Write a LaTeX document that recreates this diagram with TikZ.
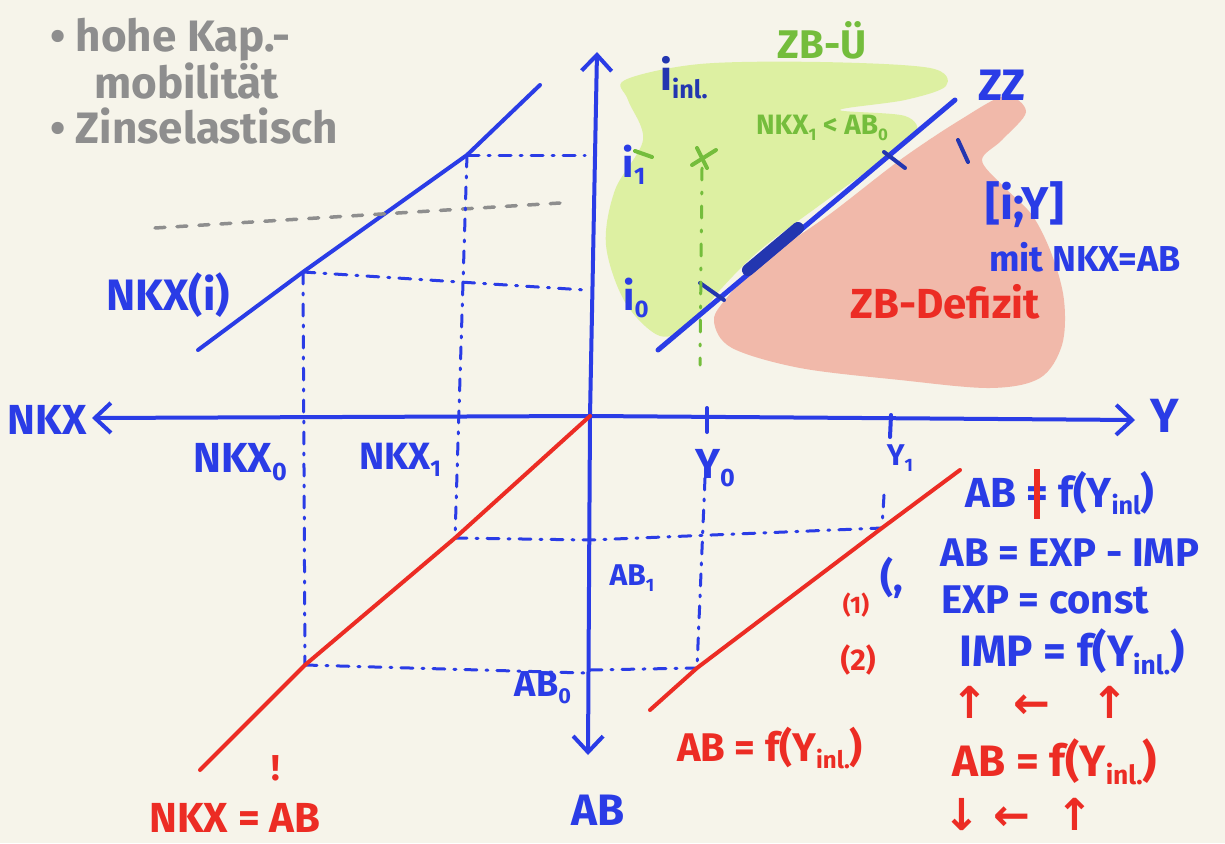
\documentclass[tikz,border=0pt]{standalone}
\usepackage{fontspec}
\setmainfont{Fira Sans}
\newfontfamily\arrowfont{DejaVu Sans}
\usetikzlibrary{arrows.meta}
\definecolor{bg}{HTML}{F6F4EA}
\definecolor{pblue}{HTML}{2A3CE6}
\definecolor{dblue}{HTML}{2336B0}
\definecolor{pred}{HTML}{EC2C24}
\definecolor{pgreen}{HTML}{74BD3C}
\definecolor{lgreen}{HTML}{DDF0A2}
\definecolor{pinkfill}{HTML}{F1B9AA}
\definecolor{pgray}{HTML}{8E8E8E}
\newcommand\bfs[1]{\bfseries\fontsize{#1}{#1}\selectfont}
\newcommand\lowsub[1]{\raisebox{-0.35ex}{\scalebox{0.6}{#1}}}
\newcommand\strikeeq{\ooalign{=\cr\hidewidth\textcolor{pred}{\rule[-0.28em]{0.14em}{1.2em}}\hidewidth\cr}}
\begin{document}
\begin{tikzpicture}[x=1pt,y=-1pt,
  pen/.style={line width=4pt, line cap=round},
  axis/.style={pen, pblue, {Straight Barb[length=16pt,width=30pt,line width=4pt]}-{Straight Barb[length=16pt,width=30pt,line width=4pt]}},
  guide/.style={pblue, line width=3pt, line cap=round, dash pattern=on 12pt off 9pt on 2pt off 9pt},
  lbl/.style={inner sep=0pt, font=\bfs{34}},
  bl/.style={lbl, text=pblue},
  db/.style={lbl, text=dblue},
  rd/.style={lbl, text=pred},
  gr/.style={lbl, text=pgreen},
  gy/.style={inner sep=0pt, text=pgray, font=\bfseries\fontsize{44}{45}\selectfont, align=left},
  arr/.style={inner sep=0pt, text=pred, text height=30pt, text depth=0pt, font=\arrowfont\bfseries\fontsize{44}{44}\selectfont}
]
\fill[bg] (0,0) rectangle (1225,843);

% shaded regions
\fill[lgreen] plot[smooth cycle, tension=0.55] coordinates {(625,80) (700,64) (820,62) (930,68) (946,86) (905,100) (840,110) (905,116) (916,135) (880,162) (820,205) (760,250) (720,290) (692,324) (660,336) (625,302) (606,245) (615,190) (643,140) (628,100)};
\fill[pinkfill] plot[smooth cycle, tension=0.55] coordinates {(725,300) (762,262) (830,214) (900,160) (960,120) (1005,96) (1026,112) (1002,140) (982,160) (1002,185) (1032,215) (1052,255) (1064,300) (1062,345) (1040,378) (990,388) (900,380) (800,368) (732,348) (714,322)};

% axes
\coordinate (yUp) at (597,52);
\coordinate (yDown) at (588,755);
\coordinate (xLeft) at (92,418);
\coordinate (xRight) at (1135,420);
\coordinate (O) at (590,416);
\draw[axis] (yDown) -- (O) -- (yUp);
\draw[axis] (xLeft) -- (O) -- (xRight);
\draw[pen, pblue] (707,408) -- (707,432);
\draw[pen, pblue] (891,415) -- (890,437);

% NKX(i) curve
\coordinate (n0) at (198,350);
\coordinate (n1) at (540,85);
\coordinate (p1) at (467,155);
\coordinate (p0) at (303,272);
\draw[pen, pblue] (n0) -- (p0) -- (p1) -- (n1);

% gray dashed
\draw[pgray, line width=3.5pt, line cap=round, dash pattern=on 10pt off 12pt] (155,228) -- (560,203);

% guide lines
\coordinate (q1) at (455,538);
\coordinate (q0) at (305,665);
\coordinate (r1) at (882,528);
\coordinate (r0) at (697,668);
\draw[guide] (p1) -- (585,155);
\draw[guide] (p0) -- (585,290);
\draw[guide] (p1) -- (q1);
\draw[guide] (p0) -- (q0);
\draw[guide] (q1) -- (590,540) -- (r1);
\draw[guide] (q0) -- (585,673);
\draw[guide] (590,670) -- (r0);
\draw[guide] (705,478) -- (r0);
\draw[guide] (884,495) -- (r1);

% red lines
\coordinate (s0) at (200,770);
\draw[pen, pred] (s0) -- (q0) -- (q1) -- (O);
\coordinate (t0) at (650,710);
\coordinate (t1) at (960,470);
\draw[pen, pred] (t0) -- (r0) -- (r1) -- (t1);

% ZZ line
\coordinate (z0) at (658,350);
\coordinate (z1) at (955,100);
\draw[pen, pblue, line width=5pt] (z0) -- (z1);
\draw[dblue, line width=12pt, line cap=round] (748,270) -- (798,228);
\draw[pen, dblue] (700,283) -- (724,300);
\draw[pen, dblue] (884,152) -- (905,168);
\draw[pen, dblue] (958,140) -- (968,162);

% green guide and cross
\draw[pgreen, line width=3pt, line cap=round, dash pattern=on 12pt off 12pt on 2pt off 12pt] (702,168) -- (700,365);
\draw[pen, pgreen] (692,165) -- (716,150);
\draw[pen, pgreen] (697,148) -- (707,168);
\draw[pen, pgreen] (635,151) -- (652,157);

% labels on axes
\node[bl, font=\bfs{42}] (lNKX) at (47,420) {NKX};
\node[bl, font=\bfs{48}] (lY) at (1165,416) {Y};
\node[bl, font=\bfs{44}] (lAB) at (598,810) {AB};
\node[bl, font=\bfs{44}] (lNKXi) at (168,295) {NKX(i)};
\node[bl, font=\bfs{42}] (lNKX0) at (240,462) {NKX\lowsub{0}};
\node[bl, font=\bfs{38}] (lNKX1) at (400,460) {NKX\lowsub{1}};
\node[bl, font=\bfs{42}] (lY0) at (715,468) {Y\lowsub{0}};
\node[bl, font=\bfs{30}] (lY1) at (900,458) {Y\lowsub{1}};
\node[bl, font=\bfs{30}] (lAB1) at (632,578) {AB\lowsub{1}};
\node[bl, font=\bfs{36}] (lAB0) at (543,688) {AB\lowsub{0}};
\node[db, font=\bfs{42}] (li) at (684,78) {i\lowsub{inl.}};
\node[bl, font=\bfs{40}] (li1) at (634,165) {i\lowsub{1}};
\node[bl, font=\bfs{40}] (li0) at (636,298) {i\lowsub{0}};

% region labels
\node[gr, font=\bfs{40}] (lZBU) at (822,40) {ZB-Ü};
\node[gr, font=\bfs{28}] (lcond) at (822,128) {NKX\lowsub{1} < AB\lowsub{0}};
\node[bl, font=\bfs{44}] (lZZ) at (1002,85) {ZZ};
\node[bl, font=\bfs{46}] (lIY) at (1025,205) {[i;Y]};
\node[bl, font=\bfs{36}] (lmit) at (1085,257) {mit NKX=AB};
\node[rd, font=\bfs{42}] (lZBD) at (945,302) {ZB-Defizit};

% bottom labels
\node[rd, font=\bfs{42}] (leq) at (235,818) {NKX = AB};
\node[rd, font=\bfs{36}] (lexcl) at (276,768) {!};
\node[rd, font=\bfs{40}] (lABf) at (770,748) {AB = f(Y\lowsub{inl.})};

% right column
\node[bl, font=\bfs{42}] (lneq) at (1060,495) {AB \strikeeq{} f(Y\lowsub{inl})};
\node[bl, font=\bfs{40}] (lparen) at (892,578) {(,};
\node[bl, font=\bfs{40}] (lexpimp) at (1070,553) {AB = EXP - IMP};
\node[rd, font=\bfs{24}] (l1) at (856,605) {(1)};
\node[bl, font=\bfs{40}] (lexp) at (1045,600) {EXP = const};
\node[rd, font=\bfs{30}] (l2) at (858,660) {(2)};
\node[bl, font=\bfs{44}] (limp) at (1072,652) {IMP = f(Y\lowsub{inl.})};
\node[arr] (a1) at (970,703) {↑};
\node[arr] (a2) at (1032,703) {←};
\node[arr] (a3) at (1110,703) {↑};
\node[rd, font=\bfs{44}] (lABf2) at (1055,762) {AB = f(Y\lowsub{inl.})};
\node[arr] (a4) at (962,815) {↓};
\node[arr] (a5) at (1012,815) {←};
\node[arr] (a6) at (1075,815) {↑};

% gray notes
\node[gy, anchor=north west] (notes) at (50,18) {• hohe Kap.-\\\hspace*{44pt}mobilität\\• Zinselastisch};
\end{tikzpicture}
\end{document}
